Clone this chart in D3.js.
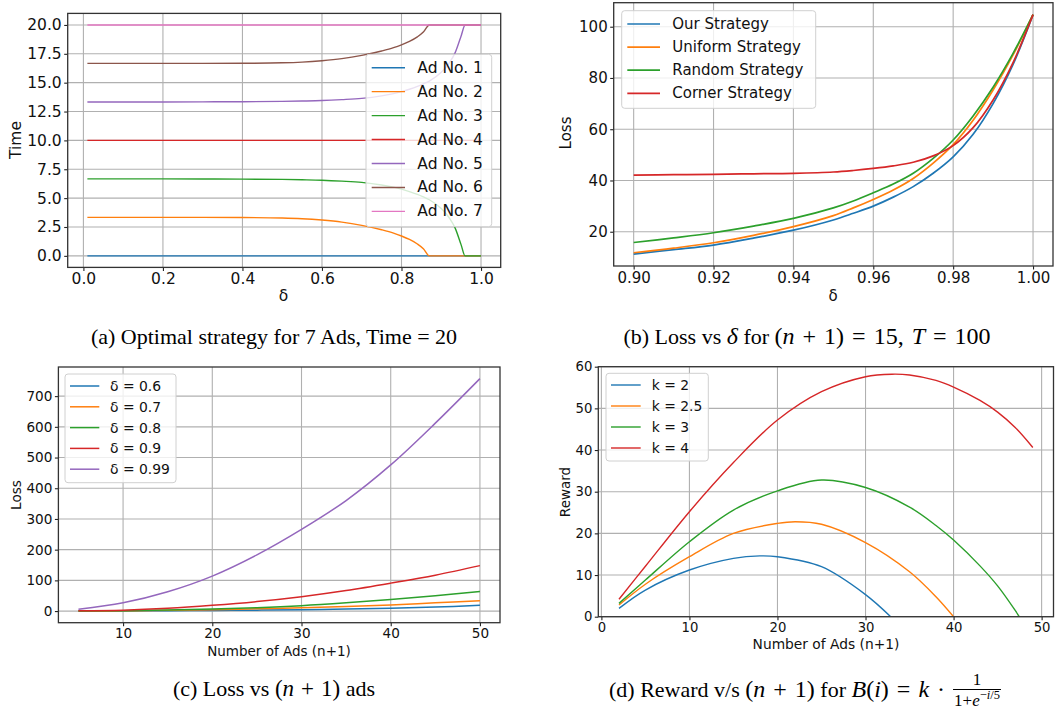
<!DOCTYPE html>
<html><head><meta charset="utf-8">
<script src="https://cdn.jsdelivr.net/npm/d3@7"></script>
<style>html,body{margin:0;padding:0;background:#fff;}svg{display:block;}</style>
</head><body>
<svg id="fig" width="1055" height="709"></svg>
<script>
// ---------------- DATA ----------------
const deltaA = [0.01,0.1,0.2,0.3,0.4,0.5,0.55,0.6,0.65,0.7,0.75,0.78,0.8,0.82,0.84,0.855,0.87,0.9,0.92,0.935,0.95,0.96,1.0];
const ad1 = [0,0,0,0,0,0,0,0,0,0,0,0,0,0,0,0,0,0,0,0,0,0,0];
const ad2 = [3.33,3.33,3.33,3.33,3.32,3.28,3.22,3.1,2.92,2.64,2.26,1.97,1.72,1.42,1.03,0.62,0,0,0,0,0,0,0];
const ad3 = [6.67,6.67,6.67,6.66,6.65,6.62,6.59,6.55,6.47,6.36,6.14,5.95,5.78,5.57,5.32,5.1,4.86,4.1,3.3,2.4,0.95,0,0];
const ad4 = [10,10,10,10,10,10,10,10,10,10,10,10,10,10,10,10,10,10,10,10,10,10,10];
const ad5 = [13.33,13.33,13.33,13.34,13.35,13.38,13.41,13.45,13.53,13.64,13.86,14.05,14.22,14.43,14.68,14.9,15.14,15.9,16.7,17.6,19.05,20,20];
const ad6 = [16.67,16.67,16.67,16.67,16.68,16.72,16.78,16.9,17.08,17.36,17.74,18.03,18.28,18.58,18.97,19.38,20,20,20,20,20,20,20];
const ad7 = [20,20,20,20,20,20,20,20,20,20,20,20,20,20,20,20,20,20,20,20,20,20,20];
const adNames = ["Ad No. 1","Ad No. 2","Ad No. 3","Ad No. 4","Ad No. 5","Ad No. 6","Ad No. 7"];
const xTicksA = [0,0.2,0.4,0.6,0.8,1.0];
const yTicksA = [0,2.5,5,7.5,10,12.5,15,17.5,20];

const deltaB = [0.90,0.91,0.92,0.93,0.94,0.95,0.955,0.96,0.965,0.97,0.975,0.98,0.985,0.99,0.995,1.00];
const ourB = [11.3,13.0,14.8,17.5,20.6,24.6,27.2,30.0,33.5,37.6,42.8,49.2,58.0,70.0,85.3,104.7];
const uniformB = [11.8,13.6,15.7,18.6,22.0,26.3,29.3,32.6,36.3,40.8,46.8,54.0,63.5,75.3,89.0,104.7];
const randomB = [15.8,17.6,19.6,22.2,25.2,29.3,32.0,35.2,38.6,42.8,48.6,55.8,65.2,76.4,89.6,104.7];
const cornerB = [42.1,42.25,42.4,42.6,42.8,43.3,43.9,44.7,45.7,47.1,49.6,53.6,60.6,71.4,86.0,104.7];
const namesB = ["Our Strategy","Uniform Strategy","Random Strategy","Corner Strategy"];
const xTicksB = [0.90,0.92,0.94,0.96,0.98,1.00];
const yTicksB = [20,40,60,80,100];

const adsC = [5,10,15,20,25,30,35,40,45,50];
const lossD06 = [0.2,0.5,1.2,2,3,4.4,6.5,9,13,18.7];
const lossD07 = [0.3,0.8,2.3,4.4,7.5,11,15,20,27,34];
const lossD08 = [0.5,1.2,3.5,6.6,11,17.6,27,38,50,64];
const lossD09 = [1,3,9,18.7,31,47,67,91,117,148];
const lossD099 = [6,27,63,114,183,266,360,476,612,757];
const namesC = ["δ = 0.6","δ = 0.7","δ = 0.8","δ = 0.9","δ = 0.99"];
const xTicksC = [10,20,30,40,50];
const yTicksC = [0,100,200,300,400,500,600,700];

const adsK2 = [2,5,10,15,18,20,25,30,33];
const rewardK2 = [2.0,6.4,11.2,14.0,14.6,14.4,12.0,5.3,-0.3];
const adsK25 = [2,5,10,15,20,22,25,30,35,38,40];
const rewardK25 = [2.8,7.8,14.4,20.0,22.4,22.8,22.2,17.8,10.8,4.8,0.0];
const adsK3 = [2,5,10,15,20,25,30,35,38,40,43,45,47,48];
const rewardK3 = [3.2,8.8,18.0,25.6,30.2,32.8,31.0,26.3,21.9,18.4,12.2,7.4,1.5,-1.8];
const adsK4 = [2,5,10,15,20,25,30,33,35,38,40,43,45,47,49];
const rewardK4 = [4.2,12.1,25.2,37.0,47.2,54.0,57.6,58.2,58.0,56.7,55.1,51.9,49.1,45.4,40.6];
const namesD = ["k = 2","k = 2.5","k = 3","k = 4"];
const xTicksD = [0,10,20,30,40,50];
const yTicksD = [0,10,20,30,40,50,60];

const tab10 = ["#1f77b4","#ff7f0e","#2ca02c","#d62728","#9467bd","#8c564b","#e377c2"];

// ---------------- DRAW ----------------
const svg = d3.select("#fig");
const FONT = "DejaVu Sans, sans-serif";
let clipId = 0;
function zip(xs, ys){ return xs.map((v,i)=>[v, ys[i]]); }

function panel(cfg){
  const g = svg.append("g");
  const x = d3.scaleLinear().domain(cfg.xDomain).range([cfg.left, cfg.right]);
  const y = d3.scaleLinear().domain(cfg.yDomain).range([cfg.bottom, cfg.top]);
  g.append("g").selectAll("line").data(cfg.xTicks).join("line")
    .attr("x1", d=>x(d)).attr("x2", d=>x(d)).attr("y1", cfg.top).attr("y2", cfg.bottom)
    .attr("stroke","#b0b0b0").attr("stroke-width",1.1);
  g.append("g").selectAll("line").data(cfg.yTicks).join("line")
    .attr("y1", d=>y(d)).attr("y2", d=>y(d)).attr("x1", cfg.left).attr("x2", cfg.right)
    .attr("stroke","#b0b0b0").attr("stroke-width",1.1);
  const id = "clip"+(clipId++);
  svg.append("defs").append("clipPath").attr("id", id).append("rect")
    .attr("x", cfg.left).attr("y", cfg.top).attr("width", cfg.right-cfg.left).attr("height", cfg.bottom-cfg.top);
  const line = d3.line().x(d=>x(d[0])).y(d=>y(d[1])).curve(cfg.curve);
  const lg = g.append("g").attr("clip-path", `url(#${id})`);
  cfg.series.forEach((s,i)=>{
    lg.append("path").attr("d", line(zip(s.x, s.y))).attr("fill","none")
      .attr("stroke", tab10[i]).attr("stroke-width", cfg.lw).attr("stroke-linejoin","round");
  });
  const ax = g.append("g").attr("transform",`translate(0,${cfg.bottom})`)
    .call(d3.axisBottom(x).tickValues(cfg.xTicks).tickFormat(cfg.xFmt).tickSize(3.5).tickPadding(2.5));
  const ay = g.append("g").attr("transform",`translate(${cfg.left},0)`)
    .call(d3.axisLeft(y).tickValues(cfg.yTicks).tickFormat(cfg.yFmt).tickSize(3.5).tickPadding(2.5));
  [ax, ay].forEach(a=>{
    a.select(".domain").remove();
    a.selectAll(".tick line").attr("stroke","#222").attr("stroke-width",1.1);
    a.selectAll(".tick text").attr("fill","#111").style("font-family",FONT).style("font-size",cfg.tickFont+"px");
  });
  g.append("rect").attr("x",cfg.left).attr("y",cfg.top).attr("width",cfg.right-cfg.left)
    .attr("height",cfg.bottom-cfg.top).attr("fill","none").attr("stroke","#333").attr("stroke-width",1.3);
  g.append("text").attr("x", cfg.xLabelPos[0]).attr("y", cfg.xLabelPos[1]).attr("text-anchor","middle")
    .attr("dominant-baseline","central").style("font-family",FONT).style("font-size",cfg.xLabelFont+"px")
    .attr("fill","#111").text(cfg.xLabel);
  g.append("text").attr("transform",`translate(${cfg.yLabelPos[0]},${cfg.yLabelPos[1]}) rotate(-90)`)
    .attr("text-anchor","middle").attr("dominant-baseline","central").style("font-family",FONT)
    .style("font-size",cfg.yLabelFont+"px").attr("fill","#111").text(cfg.yLabel);
  const L = cfg.legend;
  const lgd = g.append("g");
  lgd.append("rect").attr("x",L.x).attr("y",L.y).attr("width",L.w).attr("height",L.h).attr("rx",3)
    .attr("fill","#fff").attr("fill-opacity",0.8).attr("stroke","#d0d0d0").attr("stroke-width",1);
  cfg.series.forEach((s,i)=>{
    const yy = L.firstRow + i*L.rowStep;
    lgd.append("line").attr("x1",L.lineX0).attr("x2",L.lineX1).attr("y1",yy).attr("y2",yy)
      .attr("stroke",tab10[i]).attr("stroke-width",cfg.lw);
    lgd.append("text").attr("x",L.textX).attr("y",yy).attr("dominant-baseline","central")
      .style("font-family",FONT).style("font-size",L.font+"px").attr("fill","#111").text(s.name);
  });
}

const f1 = d3.format(".1f"), f2 = d3.format(".2f"), f0 = d3.format("d");
const smooth = d3.curveCatmullRom.alpha(0.5);

const seriesA = [ad1,ad2,ad3,ad4,ad5,ad6,ad7].map((v,i)=>({name:adNames[i], x:deltaA, y:v}));
panel({left:67.7,right:500.7,top:13.4,bottom:267.4,xDomain:[-0.0395,1.0495],yDomain:[-1,21],
  xTicks:xTicksA,yTicks:yTicksA,xFmt:f1,yFmt:f1,tickFont:15.5,series:seriesA,lw:1.4,curve:d3.curveMonotoneX,
  xLabel:"δ",xLabelPos:[283.5,296],xLabelFont:15.5,yLabel:"Time",yLabelPos:[16,140],yLabelFont:15.5,
  legend:{x:366,y:54.3,w:125.7,h:172.4,firstRow:67.7,rowStep:23.95,lineX0:371.7,lineX1:405,textX:417.3,font:15.5}});

const seriesB = [ourB,uniformB,randomB,cornerB].map((v,i)=>({name:namesB[i], x:deltaB, y:v}));
panel({left:613.7,right:1053,top:2.7,bottom:266,xDomain:[0.895,1.005],yDomain:[6.63,109.37],
  xTicks:xTicksB,yTicks:yTicksB,xFmt:f2,yFmt:f0,tickFont:15,series:seriesB,lw:1.7,curve:smooth,
  xLabel:"δ",xLabelPos:[833,296],xLabelFont:15,yLabel:"Loss",yLabelPos:[566,133],yLabelFont:15,
  legend:{x:621.7,y:10.7,w:194,h:97.6,firstRow:24,rowStep:23.1,lineX0:627.3,lineX1:660,textX:672.3,font:15}});

const seriesC = [lossD06,lossD07,lossD08,lossD09,lossD099].map((v,i)=>({name:namesC[i], x:adsC, y:v}));
panel({left:58.4,right:500,top:367,bottom:622.7,xDomain:[2.75,52.25],yDomain:[-37.85,794.85],
  xTicks:xTicksC,yTicks:yTicksC,xFmt:f0,yFmt:f0,tickFont:13.6,series:seriesC,lw:1.5,curve:smooth,
  xLabel:"Number of Ads (n+1)",xLabelPos:[279,651],xLabelFont:13.5,yLabel:"Loss",yLabelPos:[16,495],yLabelFont:13.6,
  legend:{x:65,y:374,w:111,h:108.7,firstRow:386,rowStep:20.8,lineX0:70,lineX1:99.3,textX:110,font:13.9}});

const seriesD = [[adsK2,rewardK2],[adsK25,rewardK25],[adsK3,rewardK3],[adsK4,rewardK4]]
  .map((v,i)=>({name:namesD[i], x:v[0], y:v[1]}));
panel({left:598.3,right:1053.5,top:366.7,bottom:616.7,xDomain:[-0.35,51.35],yDomain:[0,60],
  xTicks:xTicksD,yTicks:yTicksD,xFmt:f0,yFmt:f0,tickFont:13.2,series:seriesD,lw:1.4,curve:smooth,
  xLabel:"Number of Ads (n+1)",xLabelPos:[826,644],xLabelFont:13.8,yLabel:"Reward",yLabelPos:[565,492],yLabelFont:13.5,
  legend:{x:606,y:373.3,w:102.3,h:87.7,firstRow:385,rowStep:21,lineX0:611,lineX1:640.7,textX:651.7,font:13.9}});

// ---------------- CAPTIONS ----------------
const SERIF = "Liberation Serif, Times New Roman, serif";
function addParts(t, parts, gap, mathSize){
  parts.forEach(p=>{
    const s = t.append("tspan").text(p[0]);
    if (p[1]) s.style("font-style","italic");
    if (p[2]) s.attr("dx", gap);
    if (p[3]) s.style("font-size", mathSize+"px");
  });
}
function caption(parts, by, cx, gap, mathSize){
  const t = svg.append("text").attr("x",cx).attr("y",by)
    .style("font-family",SERIF).style("font-size","22px").attr("fill","#000");
  addParts(t, parts, gap, mathSize);
  const bb = t.node().getBBox();
  t.attr("x", cx - bb.width/2);
  return t;
}
caption([["(a) Optimal strategy for 7 Ads, Time = 20"]], 344, 274, 0, 22);
caption([["(b) Loss vs "],["δ",1,0,1],[" for "],["(",0,0,1],["n",1,0,1],["+",0,1,1],["1)",0,1,1],
  ["=",0,1,1],["15,",0,1,1],["T",1,1,1],["=",0,1,1],["100",0,1,1]], 344, 807, 8, 24);
caption([["(c) Loss vs "],["(",0,0,1],["n",1,0,1],["+",0,1,1],["1)",0,1,1],[" ads"]], 696, 274, 7, 23);

{
  const by = 697;
  const t = svg.append("text").attr("x",0).attr("y",by)
    .style("font-family",SERIF).style("font-size","22px").attr("fill","#000");
  addParts(t, [["(d) Reward v/s "],["(",0,0,1],["n",1,0,1],["+",0,1,1],["1)",0,1,1],[" for "],["B",1,0,1],
    ["(",0,0,1],["i",1,0,1],[")",0,0,1],["=",0,1,1],["k",1,1,1],["·",0,1,1]], 8, 24);
  const mw = t.node().getBBox().width;
  const fg = svg.append("g");
  const den = fg.append("text").attr("x",1).attr("y",by+9)
    .style("font-family",SERIF).style("font-size","17px").attr("fill","#000");
  den.append("tspan").text("1+");
  den.append("tspan").text("e").style("font-style","italic");
  const sup = den.append("tspan").attr("dy",-7).style("font-size","12.5px");
  sup.append("tspan").text("−");
  sup.append("tspan").text("i").style("font-style","italic");
  sup.append("tspan").text("/5");
  const dw = den.node().getBBox().width + 2;
  const gapF = 8;
  const total = mw + gapF + dw;
  const sx = 805 - total/2;
  t.attr("x", sx);
  fg.attr("transform",`translate(${sx + mw + gapF},0)`);
  fg.append("line").attr("x1",0).attr("x2",dw).attr("y1",by-7.5).attr("y2",by-7.5)
    .attr("stroke","#000").attr("stroke-width",1);
  fg.append("text").attr("x",dw/2).attr("y",by-12).attr("text-anchor","middle")
    .style("font-family",SERIF).style("font-size","17px").attr("fill","#000").text("1");
}
</script>
</body></html>
